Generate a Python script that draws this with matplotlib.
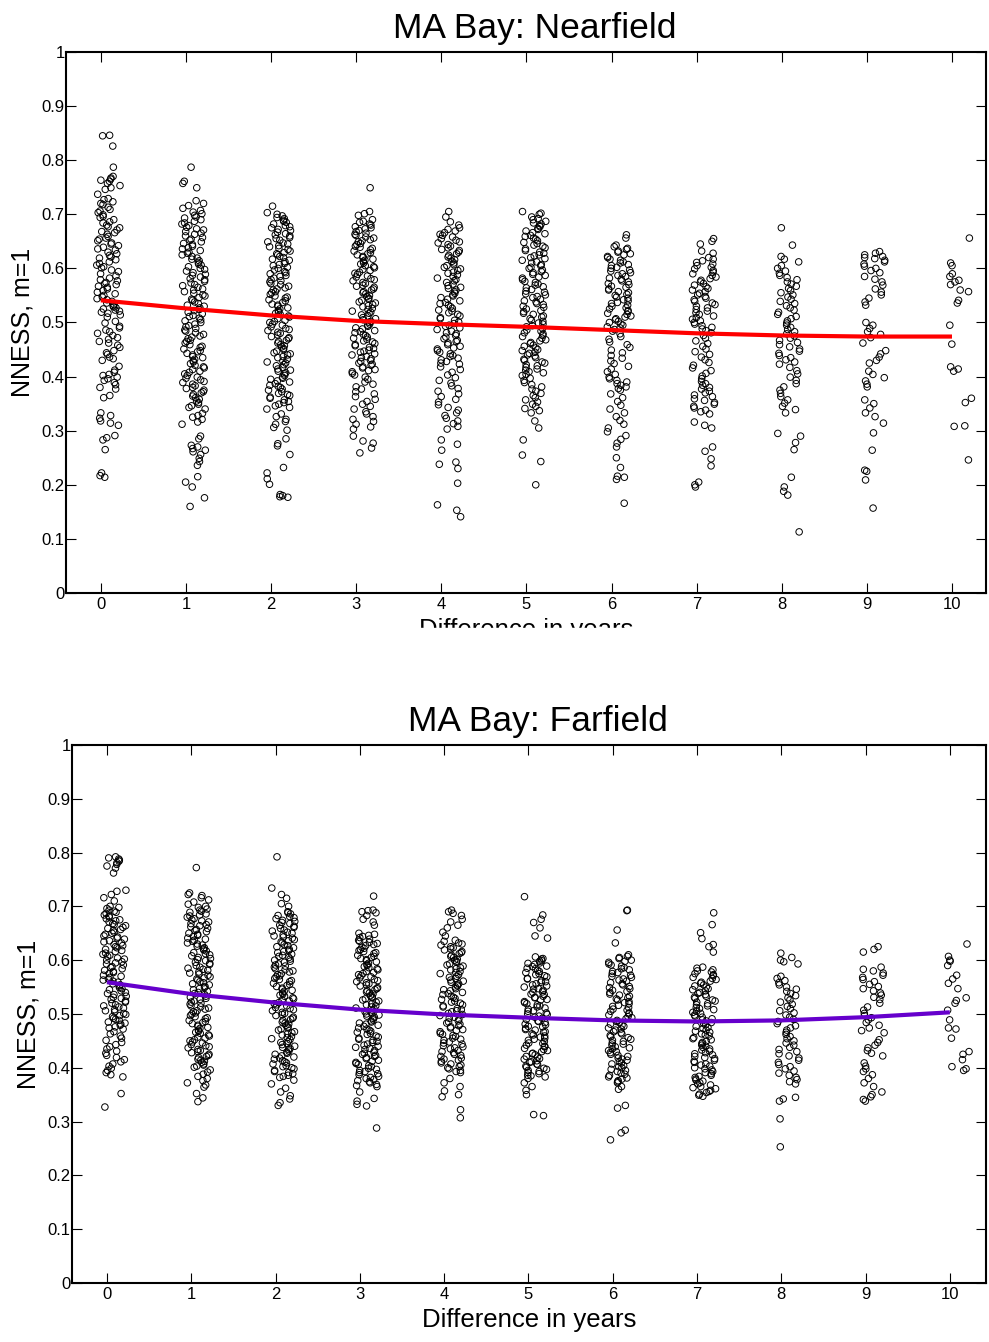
import numpy as np
import matplotlib
matplotlib.use('Agg')
from matplotlib import pyplot as plt
from matplotlib.patches import Rectangle

years = list(range(11))
ytick_vals = [0, 0.1, 0.2, 0.3, 0.4, 0.5, 0.6, 0.7, 0.8, 0.9, 1]
ytick_labels = ['0', '0.1', '0.2', '0.3', '0.4', '0.5', '0.6', '0.7', '0.8', '0.9', '1']

# fitted curves (NNESS at each year difference)
near_fit = [0.541, 0.526, 0.513, 0.503, 0.497, 0.492, 0.486, 0.480, 0.476, 0.474, 0.474]
far_fit = [0.559, 0.537, 0.521, 0.508, 0.499, 0.493, 0.488, 0.486, 0.488, 0.494, 0.503]

# Nearfield values (x1000), one list per year difference
near0 = [846, 845, 826, 787, 770, 767, 765, 763, 761, 757, 753, 749, 746, 737, 729, 727, 723, 720, 718, 713, 709, 706, 703, 699, 696, 694, 690, 686, 684, 680, 677, 675, 671, 668, 666, 663, 659, 656, 654, 651, 647, 645, 642, 639, 636, 634, 630, 627, 624, 621, 619, 616, 612, 609, 606, 603, 601, 597, 594, 590, 586, 582, 579, 577, 574, 572, 570, 567, 565, 562, 559, 556, 553, 550, 547, 544, 542, 539, 536, 533, 531, 529, 527, 525, 523, 521, 519, 517, 514, 510, 502, 499, 493, 490, 486, 483, 480, 476, 472, 469, 465, 462, 458, 454, 448, 444, 441, 436, 433, 430, 419, 412, 408, 404, 402, 399, 396, 393, 389, 385, 380, 377, 365, 361, 333, 328, 323, 318, 314, 310, 291, 287, 283, 265, 222, 217, 214]
near1 = [787, 761, 757, 749, 725, 720, 716, 711, 707, 704, 701, 698, 695, 693, 690, 687, 684, 682, 679, 676, 673, 671, 668, 665, 663, 660, 657, 654, 652, 649, 646, 644, 641, 638, 636, 633, 630, 628, 625, 622, 619, 617, 614, 611, 608, 606, 603, 600, 598, 595, 592, 589, 587, 584, 581, 579, 576, 573, 570, 568, 565, 562, 560, 557, 554, 551, 549, 546, 543, 541, 538, 535, 532, 530, 527, 524, 522, 519, 516, 513, 511, 508, 505, 503, 500, 497, 494, 492, 489, 486, 484, 481, 478, 475, 473, 470, 467, 465, 462, 459, 456, 454, 451, 448, 446, 443, 440, 437, 435, 432, 429, 427, 424, 421, 418, 416, 413, 410, 408, 405, 402, 399, 397, 394, 391, 389, 386, 383, 380, 378, 375, 372, 370, 367, 364, 361, 358, 355, 352, 349, 346, 343, 340, 332, 328, 325, 321, 316, 312, 290, 285, 273, 270, 267, 264, 261, 256, 249, 243, 236, 215, 205, 196, 176, 160]
near2 = [715, 703, 700, 697, 694, 692, 689, 687, 685, 682, 679, 677, 675, 672, 670, 667, 664, 662, 660, 657, 655, 652, 649, 647, 645, 642, 640, 637, 635, 632, 629, 627, 625, 622, 620, 617, 615, 612, 609, 607, 605, 602, 600, 597, 594, 592, 590, 587, 585, 582, 579, 577, 575, 572, 570, 567, 564, 562, 560, 557, 555, 552, 549, 547, 545, 542, 540, 537, 534, 532, 530, 527, 525, 522, 519, 517, 515, 512, 510, 507, 504, 502, 500, 497, 495, 492, 489, 487, 485, 482, 480, 477, 474, 472, 470, 467, 465, 462, 459, 457, 455, 452, 450, 447, 444, 442, 440, 437, 435, 432, 429, 427, 425, 422, 420, 417, 414, 412, 410, 407, 405, 402, 399, 397, 395, 392, 390, 387, 384, 382, 380, 377, 375, 372, 369, 367, 365, 362, 360, 357, 354, 352, 349, 346, 343, 340, 331, 326, 321, 317, 312, 306, 301, 285, 276, 272, 256, 232, 222, 211, 201, 182, 180, 178, 177]
near3 = [749, 705, 701, 698, 690, 687, 685, 682, 680, 677, 675, 673, 670, 668, 665, 663, 661, 658, 656, 653, 651, 649, 646, 644, 641, 639, 637, 634, 632, 629, 627, 625, 622, 620, 617, 615, 613, 610, 608, 605, 603, 601, 598, 596, 593, 591, 589, 586, 584, 581, 579, 577, 574, 572, 569, 567, 565, 562, 560, 557, 555, 553, 550, 548, 545, 543, 541, 538, 536, 533, 531, 529, 526, 524, 521, 519, 517, 514, 512, 509, 507, 505, 502, 500, 497, 495, 493, 490, 488, 485, 483, 481, 478, 476, 473, 471, 469, 466, 464, 461, 459, 457, 454, 452, 449, 447, 445, 442, 440, 437, 435, 433, 430, 428, 425, 423, 421, 418, 416, 413, 411, 409, 406, 403, 399, 395, 390, 386, 381, 377, 372, 368, 363, 358, 354, 349, 345, 340, 335, 331, 326, 321, 317, 312, 307, 303, 290, 281, 277, 268, 259]
near4 = [705, 695, 686, 680, 675, 672, 669, 666, 663, 661, 658, 655, 652, 649, 647, 644, 641, 638, 635, 633, 630, 627, 624, 621, 619, 616, 613, 610, 607, 605, 602, 599, 596, 593, 591, 588, 585, 582, 579, 577, 574, 571, 568, 565, 563, 560, 557, 554, 551, 549, 546, 543, 540, 537, 535, 532, 529, 526, 523, 521, 518, 515, 512, 509, 507, 504, 501, 498, 495, 493, 490, 487, 484, 481, 479, 476, 473, 470, 467, 465, 462, 459, 456, 453, 451, 448, 445, 442, 439, 437, 434, 431, 428, 425, 423, 418, 413, 408, 403, 398, 393, 388, 383, 378, 373, 368, 363, 358, 353, 348, 343, 338, 333, 328, 323, 318, 313, 308, 303, 283, 275, 264, 242, 238, 230, 203, 163, 153, 141]
near5 = [705, 702, 700, 695, 692, 690, 687, 684, 682, 679, 677, 674, 672, 669, 666, 664, 661, 659, 656, 654, 651, 648, 646, 643, 641, 638, 636, 633, 630, 628, 625, 623, 620, 618, 615, 612, 610, 607, 605, 602, 600, 597, 594, 592, 589, 587, 584, 582, 579, 576, 574, 571, 569, 566, 564, 561, 558, 556, 553, 551, 548, 546, 543, 540, 538, 535, 533, 530, 528, 525, 522, 520, 517, 515, 512, 510, 507, 504, 502, 499, 497, 494, 492, 489, 486, 484, 481, 479, 476, 474, 471, 468, 466, 463, 461, 458, 456, 453, 450, 448, 445, 443, 440, 438, 435, 432, 430, 427, 425, 422, 420, 417, 414, 412, 409, 407, 404, 402, 397, 393, 389, 385, 381, 377, 373, 369, 365, 361, 357, 353, 349, 345, 341, 337, 333, 318, 305, 283, 255, 243, 200]
near6 = [662, 656, 643, 640, 637, 635, 632, 630, 627, 625, 622, 620, 617, 615, 612, 610, 607, 605, 602, 600, 597, 595, 592, 590, 587, 585, 582, 580, 577, 575, 572, 570, 567, 565, 562, 560, 557, 555, 552, 550, 547, 545, 542, 540, 537, 535, 532, 530, 527, 525, 522, 520, 517, 515, 512, 510, 507, 505, 502, 500, 497, 495, 492, 490, 487, 484, 479, 474, 469, 464, 459, 454, 449, 444, 439, 434, 429, 424, 419, 414, 409, 404, 399, 396, 393, 390, 387, 384, 381, 378, 375, 368, 361, 354, 347, 340, 333, 326, 319, 312, 305, 298, 291, 284, 277, 270, 250, 232, 216, 214, 210, 166]
near7 = [655, 650, 645, 632, 628, 620, 617, 614, 611, 608, 605, 602, 599, 596, 593, 590, 587, 584, 581, 578, 575, 572, 569, 566, 563, 560, 557, 554, 551, 548, 545, 542, 539, 536, 533, 530, 527, 524, 521, 518, 515, 512, 509, 506, 503, 500, 497, 494, 491, 488, 485, 481, 476, 471, 466, 461, 456, 451, 446, 441, 436, 431, 426, 421, 416, 411, 406, 401, 396, 391, 387, 384, 380, 377, 373, 370, 366, 363, 359, 356, 352, 349, 345, 342, 338, 335, 331, 316, 310, 305, 270, 262, 248, 235, 205, 200, 196]
near8 = [675, 643, 622, 617, 612, 605, 600, 595, 591, 587, 583, 579, 575, 571, 567, 563, 559, 555, 551, 547, 543, 539, 535, 531, 527, 523, 519, 515, 511, 507, 503, 499, 495, 491, 487, 483, 479, 475, 471, 467, 463, 459, 455, 451, 447, 443, 439, 435, 431, 427, 423, 417, 411, 405, 399, 393, 387, 381, 375, 369, 363, 357, 351, 345, 339, 333, 295, 290, 278, 265, 214, 196, 188, 181, 113]
near9 = [631, 628, 625, 622, 620, 618, 615, 612, 608, 604, 600, 596, 592, 585, 580, 575, 569, 562, 556, 551, 545, 538, 532, 500, 495, 489, 483, 478, 472, 462, 448, 442, 436, 430, 425, 410, 404, 398, 392, 386, 381, 357, 350, 342, 333, 326, 314, 296, 264, 227, 225, 209, 157]
near10 = [656, 610, 605, 590, 585, 578, 575, 570, 560, 557, 541, 536, 495, 460, 418, 414, 410, 360, 352, 309, 308, 246]

# Farfield values (x1000)
far0 = [792, 790, 788, 786, 784, 781, 778, 775, 771, 762, 730, 728, 722, 716, 710, 700, 698, 696, 693, 691, 689, 687, 684, 682, 680, 677, 675, 673, 671, 668, 666, 664, 661, 659, 657, 655, 652, 650, 648, 645, 643, 641, 639, 636, 634, 632, 629, 627, 625, 623, 620, 618, 616, 613, 611, 609, 607, 604, 602, 600, 597, 595, 593, 591, 588, 586, 584, 581, 579, 577, 575, 572, 570, 568, 565, 563, 561, 559, 556, 554, 552, 549, 547, 545, 543, 540, 538, 536, 533, 531, 529, 527, 524, 522, 520, 517, 515, 513, 511, 508, 506, 504, 501, 499, 497, 495, 492, 490, 488, 485, 483, 481, 479, 476, 474, 472, 467, 463, 459, 455, 451, 447, 443, 439, 435, 431, 427, 423, 419, 415, 411, 407, 403, 399, 395, 391, 387, 383, 352, 327]
far1 = [772, 725, 722, 720, 716, 712, 708, 704, 700, 698, 695, 693, 691, 689, 686, 684, 682, 680, 677, 675, 673, 671, 668, 666, 664, 662, 659, 657, 655, 653, 650, 648, 646, 644, 641, 639, 637, 635, 632, 630, 628, 626, 623, 621, 619, 617, 614, 612, 610, 608, 605, 603, 601, 599, 596, 594, 592, 590, 587, 585, 583, 581, 578, 576, 574, 572, 569, 567, 565, 563, 560, 558, 556, 554, 551, 549, 547, 545, 542, 540, 538, 536, 533, 531, 529, 527, 524, 522, 520, 518, 515, 513, 511, 509, 506, 504, 502, 500, 497, 495, 493, 491, 488, 486, 484, 482, 479, 477, 475, 473, 470, 468, 466, 464, 461, 459, 457, 455, 452, 450, 448, 446, 443, 441, 439, 437, 434, 432, 430, 428, 425, 423, 421, 419, 416, 414, 412, 410, 407, 405, 403, 401, 396, 392, 388, 384, 380, 376, 372, 368, 364, 352, 344, 337]
far2 = [792, 734, 722, 715, 705, 700, 690, 688, 686, 683, 681, 679, 677, 674, 672, 670, 668, 665, 663, 661, 659, 656, 654, 652, 650, 647, 645, 643, 641, 638, 636, 634, 632, 629, 627, 625, 623, 620, 618, 616, 614, 611, 609, 607, 605, 602, 600, 598, 596, 593, 591, 589, 587, 584, 582, 580, 578, 575, 573, 571, 569, 566, 564, 562, 560, 557, 555, 553, 551, 548, 546, 544, 542, 539, 537, 535, 533, 530, 528, 526, 524, 521, 519, 517, 515, 512, 510, 508, 506, 503, 501, 499, 497, 494, 492, 490, 488, 485, 483, 481, 479, 476, 474, 472, 470, 467, 465, 463, 461, 458, 456, 454, 452, 449, 447, 445, 443, 440, 438, 436, 434, 431, 429, 427, 425, 422, 420, 418, 416, 413, 411, 409, 407, 404, 402, 400, 398, 395, 393, 391, 389, 386, 384, 382, 377, 370, 362, 355, 348, 342, 335, 330]
far3 = [719, 693, 692, 690, 688, 683, 676, 671, 665, 650, 648, 646, 644, 642, 639, 637, 635, 633, 631, 629, 627, 624, 622, 620, 618, 616, 614, 612, 609, 607, 605, 603, 601, 599, 597, 594, 592, 590, 588, 586, 584, 582, 579, 577, 575, 573, 571, 569, 567, 564, 562, 560, 558, 556, 554, 552, 549, 547, 545, 543, 541, 539, 537, 534, 532, 530, 528, 526, 524, 522, 519, 517, 515, 513, 511, 509, 507, 504, 502, 500, 498, 496, 494, 492, 489, 487, 485, 483, 481, 479, 477, 474, 472, 470, 468, 466, 464, 462, 459, 457, 455, 453, 451, 449, 447, 444, 442, 440, 438, 436, 434, 432, 429, 427, 425, 423, 421, 419, 417, 414, 412, 410, 408, 406, 404, 402, 399, 397, 395, 393, 391, 389, 387, 384, 382, 380, 378, 376, 374, 372, 369, 367, 365, 355, 343, 338, 332, 329, 288]
far4 = [693, 690, 687, 683, 676, 671, 665, 660, 652, 645, 637, 635, 632, 630, 628, 625, 623, 621, 619, 616, 614, 612, 609, 607, 605, 602, 600, 598, 596, 593, 591, 589, 586, 584, 582, 579, 577, 575, 573, 570, 568, 566, 563, 561, 559, 556, 554, 552, 550, 547, 545, 543, 540, 538, 536, 533, 531, 529, 527, 524, 522, 520, 517, 515, 513, 510, 508, 506, 504, 501, 499, 497, 494, 492, 490, 487, 485, 483, 481, 478, 476, 474, 471, 469, 467, 464, 462, 460, 458, 455, 453, 451, 448, 446, 444, 441, 439, 437, 435, 432, 430, 428, 425, 423, 421, 418, 416, 414, 412, 409, 407, 405, 402, 400, 398, 395, 393, 391, 380, 372, 365, 357, 350, 346, 322, 307]
far5 = [718, 684, 676, 670, 660, 645, 641, 606, 603, 602, 599, 598, 595, 594, 592, 589, 588, 585, 584, 581, 579, 577, 575, 573, 571, 569, 566, 565, 562, 560, 559, 556, 554, 552, 550, 547, 546, 544, 541, 540, 537, 536, 533, 531, 530, 527, 526, 523, 521, 519, 517, 515, 513, 511, 509, 506, 505, 502, 500, 499, 496, 494, 492, 490, 487, 486, 484, 481, 480, 477, 476, 473, 471, 470, 467, 466, 463, 461, 459, 457, 455, 453, 451, 449, 446, 445, 442, 440, 439, 436, 434, 432, 430, 427, 426, 424, 421, 420, 417, 416, 413, 411, 410, 407, 406, 403, 401, 399, 397, 395, 393, 391, 389, 386, 385, 383, 380, 372, 365, 358, 350, 313, 311]
far6 = [693, 692, 656, 632, 610, 607, 605, 603, 600, 598, 596, 593, 591, 589, 586, 584, 582, 579, 577, 575, 572, 570, 568, 565, 563, 561, 558, 556, 554, 551, 549, 547, 544, 542, 540, 537, 535, 533, 530, 528, 526, 523, 521, 519, 516, 514, 512, 509, 507, 505, 502, 500, 498, 495, 493, 491, 488, 486, 484, 481, 479, 477, 474, 472, 470, 467, 465, 463, 460, 458, 456, 453, 451, 449, 446, 444, 442, 439, 437, 435, 432, 430, 428, 425, 423, 421, 418, 416, 414, 411, 409, 407, 404, 402, 400, 397, 395, 393, 390, 388, 386, 383, 381, 379, 376, 374, 372, 365, 360, 330, 325, 284, 279, 266]
far7 = [688, 666, 651, 640, 629, 625, 615, 587, 585, 582, 580, 578, 575, 573, 571, 568, 566, 564, 561, 559, 557, 554, 552, 550, 547, 545, 543, 540, 538, 536, 533, 531, 529, 526, 524, 522, 519, 517, 515, 512, 510, 508, 505, 503, 501, 498, 496, 494, 491, 489, 487, 484, 482, 480, 477, 475, 473, 470, 468, 466, 463, 461, 459, 456, 454, 452, 449, 447, 445, 442, 440, 438, 435, 433, 431, 428, 426, 424, 421, 419, 417, 414, 412, 410, 407, 405, 403, 400, 398, 396, 393, 391, 389, 386, 384, 382, 379, 377, 375, 372, 370, 368, 365, 363, 361, 358, 356, 354, 351, 349, 347]
far8 = [613, 605, 600, 597, 593, 570, 566, 562, 558, 554, 550, 546, 542, 538, 534, 530, 526, 522, 518, 514, 510, 506, 502, 498, 494, 490, 486, 482, 478, 474, 470, 466, 462, 458, 454, 450, 446, 442, 438, 434, 430, 426, 422, 418, 414, 410, 406, 402, 398, 394, 390, 386, 382, 378, 374, 370, 345, 342, 338, 305, 253]
far9 = [625, 620, 615, 587, 583, 580, 576, 572, 568, 564, 560, 555, 551, 547, 543, 539, 535, 531, 527, 520, 513, 507, 501, 497, 493, 489, 484, 479, 474, 469, 465, 452, 447, 442, 437, 432, 427, 422, 409, 403, 398, 393, 387, 380, 372, 365, 355, 350, 346, 341, 338]
far10 = [630, 607, 600, 598, 590, 572, 565, 557, 547, 530, 525, 520, 507, 489, 474, 472, 455, 430, 425, 415, 402, 398, 395]

near = [near0, near1, near2, near3, near4, near5, near6, near7, near8, near9, near10]
far = [far0, far1, far2, far3, far4, far5, far6, far7, far8, far9, far10]

plt.rcParams['font.family'] = ['Liberation Sans', 'DejaVu Sans']

fig = plt.figure(figsize=(9.89, 13.42), dpi=100)


def panel(rect, cols, fit, color, title, xlim):
    ax = fig.add_axes(rect)
    for yr, vals in zip(years, cols):
        y = np.array(vals) / 1000.0
        # sideways spread inside each column: fixed hash of the point index
        i = np.arange(len(y)) + 37 * yr
        frac = (np.sin(i * 12.9898 + 1.0) * 43758.5453) % 1
        x = yr - 0.05 + 0.28 * frac
        ax.scatter(x, y, s=22, facecolors='none', edgecolors='k',
                   linewidths=0.7, zorder=2)
    ax.plot(years, fit, color=color, lw=3, zorder=3, solid_capstyle='butt')
    ax.set_xlim(*xlim)
    ax.set_ylim(0, 1)
    ax.set_xticks(years)
    ax.set_yticks(ytick_vals)
    ax.set_yticklabels(ytick_labels)
    ax.tick_params(direction='in', top=True, right=True, length=7, width=0.8,
                   labelsize=12)
    ax.tick_params(axis='x', pad=3)
    ax.tick_params(axis='y', pad=1)
    for sp in ax.spines.values():
        sp.set_linewidth(1.5)
    ax.set_title(title, fontsize=25.5, pad=10, x=0.51)
    ax.set_ylabel('NNESS, m=1', fontsize=18, labelpad=5)
    ax.set_xlabel('Difference in years', fontsize=18.5, labelpad=4)
    return ax


panel([0.0667, 0.5581, 0.9303, 0.4032], near, near_fit, '#ff0000',
      'MA Bay: Nearfield', (-0.41, 10.4))
panel([0.0728, 0.0440, 0.9242, 0.4009], far, far_fit, '#6600cc',
      'MA Bay: Farfield', (-0.415, 10.43))

# the upper x label is cut off in the original
fig.add_artist(Rectangle((0, 1 - 690 / 1342), 1, 62 / 1342,
                         transform=fig.transFigure, color='w', zorder=10))

plt.savefig('out.png', dpi=100)
